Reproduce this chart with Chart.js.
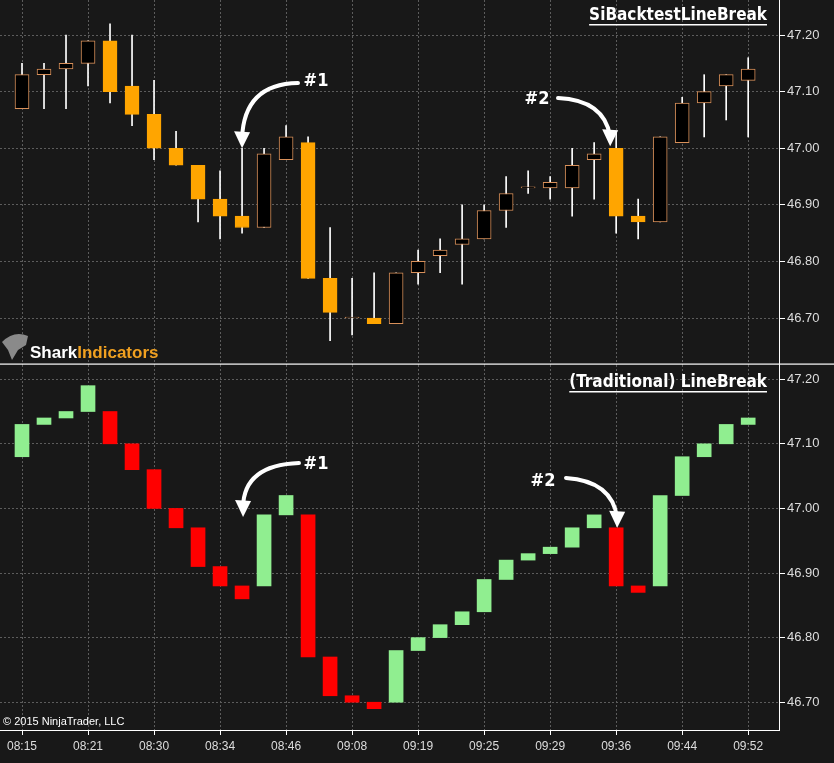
<!DOCTYPE html>
<html>
<head>
<meta charset="utf-8">
<script src="https://cdn.jsdelivr.net/npm/chart.js@4.4.0/dist/chart.umd.min.js"></script>
<style>
  body { margin: 0; background: #181818; width: 834px; height: 763px; overflow: hidden; }
  #top { position: absolute; left: 0; top: 0; }
  #bottom { position: absolute; left: 0; top: 365px; }
</style>
</head>
<body>
<canvas id="top" width="834" height="365"></canvas>
<canvas id="bottom" width="834" height="398"></canvas>
<script>
// candles (SiBacktestLineBreak panel)
const topOpen  = [47.07,47.13,47.14,47.15,47.19,47.11,47.06,47.00,46.97,46.91,46.88,46.86,46.98,47.01,46.77,46.70,46.70,46.69,46.78,46.81,46.83,46.84,46.89,46.93,46.93,46.93,46.98,47.00,46.88,46.87,47.01,47.08,47.11,47.12];
const topHigh  = [47.15,47.15,47.20,47.19,47.22,47.20,47.12,47.03,46.97,46.96,47.00,47.00,47.04,47.02,46.86,46.77,46.78,46.78,46.82,46.84,46.90,46.90,46.95,46.96,46.95,47.00,47.01,47.03,46.91,47.02,47.09,47.13,47.13,47.16];
const topLow   = [47.07,47.07,47.07,47.11,47.08,47.04,46.98,46.97,46.87,46.84,46.85,46.86,46.98,46.77,46.66,46.67,46.69,46.69,46.76,46.78,46.76,46.84,46.86,46.92,46.91,46.88,46.91,46.85,46.84,46.87,47.01,47.02,47.05,47.02];
const topClose = [47.13,47.14,47.15,47.19,47.10,47.06,47.00,46.97,46.91,46.88,46.86,46.99,47.02,46.77,46.71,46.70,46.69,46.78,46.80,46.82,46.84,46.89,46.92,46.93,46.94,46.97,46.99,46.88,46.87,47.02,47.08,47.10,47.13,47.14];

// bricks (Traditional LineBreak panel)
const lbOpen  = [47.08,47.13,47.14,47.15,47.15,47.10,47.06,47.00,46.97,46.91,46.88,46.88,46.99,46.99,46.77,46.71,46.70,46.70,46.78,46.80,46.82,46.84,46.89,46.92,46.93,46.94,46.97,46.97,46.88,46.88,47.02,47.08,47.10,47.13];
const lbClose = [47.13,47.14,47.15,47.19,47.10,47.06,47.00,46.97,46.91,46.88,46.86,46.99,47.02,46.77,46.71,46.70,46.69,46.78,46.80,46.82,46.84,46.89,46.92,46.93,46.94,46.97,46.99,46.88,46.87,47.02,47.08,47.10,47.13,47.14];

const tickLabels = ['08:15','08:21','08:30','08:34','08:46','09:08','09:19','09:25','09:29','09:36','09:44','09:52'];
const priceTicks = [46.70,46.80,46.90,47.00,47.10,47.20];

const GRID = '#5c5c5c';
const FONT = { family: 'Liberation Sans', size: 13 };

function xScale(showLabels) {
    return {
        type: 'linear', min: -1, max: 34.4, offset: false,
        afterBuildTicks: s => { s.ticks = tickLabels.map((t, i) => ({ value: i * 3 })); },
        afterFit: s => { s.height = showLabels ? 33 : 0; s.paddingLeft = 0; s.paddingRight = 0; },
        grid: { color: GRID, offset: false, drawTicks: showLabels, tickLength: 5, tickColor: '#ffffff' },
        border: { color: '#ffffff', width: 1, dash: [2, 2] },
        ticks: {
            display: showLabels, color: '#dddddd', font: { family: 'Liberation Sans', size: 12 },
            maxRotation: 0, padding: 4,
            callback: v => tickLabels[v / 3]
        }
    };
}

function yScale(min, max) {
    return {
        position: 'right', min: min, max: max,
        afterBuildTicks: s => { s.ticks = priceTicks.map(v => ({ value: v })); },
        afterFit: s => { s.width = 55; s.paddingTop = 0; s.paddingBottom = 0; },
        grid: { color: GRID, tickLength: 6, tickColor: '#ffffff' },
        border: { color: '#ffffff', width: 1, dash: [2, 2] },
        ticks: { color: '#dddddd', font: FONT, padding: 2, callback: v => v.toFixed(2) }
    };
}

function drawArrow(ctx, x0, y0, cx, cy, x1, y1) {
    ctx.save();
    ctx.strokeStyle = '#ffffff'; ctx.fillStyle = '#ffffff';
    ctx.lineWidth = 4; ctx.lineCap = 'round';
    ctx.beginPath(); ctx.moveTo(x0, y0); ctx.quadraticCurveTo(cx, cy, x1, y1 - 8); ctx.stroke();
    ctx.beginPath(); ctx.moveTo(x1 - 8, y1 - 15); ctx.lineTo(x1 + 8, y1 - 14); ctx.lineTo(x1, y1 + 2); ctx.closePath(); ctx.fill();
    ctx.restore();
}

function titleText(ctx, text, right, y) {
    ctx.save();
    ctx.font = 'bold 17px "DejaVu Sans Condensed"';
    ctx.fillStyle = '#ffffff'; ctx.textAlign = 'right'; ctx.textBaseline = 'alphabetic';
    ctx.fillText(text, right, y);
    const w = ctx.measureText(text).width;
    ctx.fillRect(right - w, y + 4, w, 1.5);
    ctx.restore();
}

function label(ctx, text, x, y) {
    ctx.save();
    ctx.font = 'bold 18px "DejaVu Sans Condensed"';
    ctx.fillStyle = '#ffffff'; ctx.textAlign = 'center'; ctx.textBaseline = 'middle';
    ctx.fillText(text, x, y);
    ctx.restore();
}

const topDecor = {
    id: 'topDecor',
    afterDraw(chart) {
        const ctx = chart.ctx;
        const x = chart.scales.x, y = chart.scales.y;
        titleText(ctx, 'SiBacktestLineBreak', 767, 20);
        const a1x = x.getPixelForValue(10), a1y = y.getPixelForValue(topHigh[10]);
        label(ctx, '#1', 316, 81);
        drawArrow(ctx, 298, 83, 244, 84, a1x, a1y - 2);
        const a2x = x.getPixelForValue(27) - 6, a2y = y.getPixelForValue(topOpen[27]);
        label(ctx, '#2', 537, 99);
        drawArrow(ctx, 558, 98, 604, 100, a2x, a2y - 4);
        // panel separator
        ctx.fillStyle = '#ffffff';
        ctx.fillRect(0, 363.5, chart.width, 1.2);
        // logo
        ctx.save();
        ctx.fillStyle = '#8a8a8a';
        ctx.beginPath(); ctx.moveTo(2, 342); ctx.quadraticCurveTo(14, 330, 28, 336); ctx.lineTo(26, 345);
        ctx.lineTo(18, 350); ctx.lineTo(12, 360); ctx.lineTo(8, 350); ctx.closePath(); ctx.fill();
        ctx.font = 'bold 17px "Liberation Sans"'; ctx.textBaseline = 'middle';
        ctx.fillStyle = '#ffffff'; ctx.fillText('Shark', 30, 353);
        const w = ctx.measureText('Shark').width;
        ctx.fillStyle = '#f0a020'; ctx.fillText('Indicators', 30 + w, 353);
        ctx.restore();
    }
};

const bottomDecor = {
    id: 'bottomDecor',
    afterDraw(chart) {
        const ctx = chart.ctx;
        const x = chart.scales.x, y = chart.scales.y;
        titleText(ctx, '(Traditional) LineBreak', 767, 22);
        const a1x = x.getPixelForValue(10) + 1, a1y = y.getPixelForValue(46.99);
        label(ctx, '#1', 316, 99);
        drawArrow(ctx, 299, 98, 244, 100, a1x, a1y);
        const a2x = x.getPixelForValue(27) + 1, a2y = y.getPixelForValue(lbOpen[27]);
        label(ctx, '#2', 543, 116);
        drawArrow(ctx, 566, 113, 612, 116, a2x, a2y - 2);
        ctx.save();
        ctx.font = '11px "Liberation Sans"'; ctx.fillStyle = '#ffffff'; ctx.textBaseline = 'middle';
        ctx.fillText('\u00a9 2015 NinjaTrader, LLC', 3, 357);
        ctx.restore();
    }
};

const idx = topOpen.map((_, i) => i);
const bg = { id: 'bg', beforeDraw(c) { c.ctx.fillStyle = '#181818'; c.ctx.fillRect(0, 0, c.width, c.height); } };

new Chart(document.getElementById('top').getContext('2d'), {
    type: 'bar',
    data: {
        datasets: [
            {
                label: 'body',
                data: idx.map(i => ({ x: i, y: [topOpen[i], topClose[i]] })),
                backgroundColor: idx.map(i => topClose[i] < topOpen[i] ? '#ffa500' : '#000000'),
                borderColor: idx.map(i => topClose[i] < topOpen[i] ? '#ffa500' : '#d8905a'),
                borderWidth: 1, borderSkipped: false, barThickness: 14, minBarLength: 1, order: 1
            },
            {
                label: 'wick',
                data: idx.map(i => ({ x: i, y: [topLow[i], topHigh[i]] })),
                backgroundColor: '#ffffff', barThickness: 1, order: 2
            }
        ]
    },
    options: {
        responsive: false, animation: false,
        layout: { padding: 0 },
        datasets: { bar: { grouped: false } },
        plugins: { legend: { display: false }, tooltip: { enabled: false } },
        scales: { x: xScale(false), y: yScale(46.617, 47.262) }
    },
    plugins: [bg, topDecor]
});

new Chart(document.getElementById('bottom').getContext('2d'), {
    type: 'bar',
    data: {
        datasets: [{
            label: 'brick',
            data: idx.map(i => ({ x: i, y: [lbOpen[i], lbClose[i]] })),
            backgroundColor: idx.map(i => lbClose[i] < lbOpen[i] ? '#ff0000' : '#90ee90'),
            barThickness: 14, minBarLength: 2
        }]
    },
    options: {
        responsive: false, animation: false,
        layout: { padding: 0 },
        plugins: { legend: { display: false }, tooltip: { enabled: false } },
        scales: { x: xScale(true), y: yScale(46.657, 47.222) }
    },
    plugins: [bg, bottomDecor]
});
</script>
</body>
</html>
